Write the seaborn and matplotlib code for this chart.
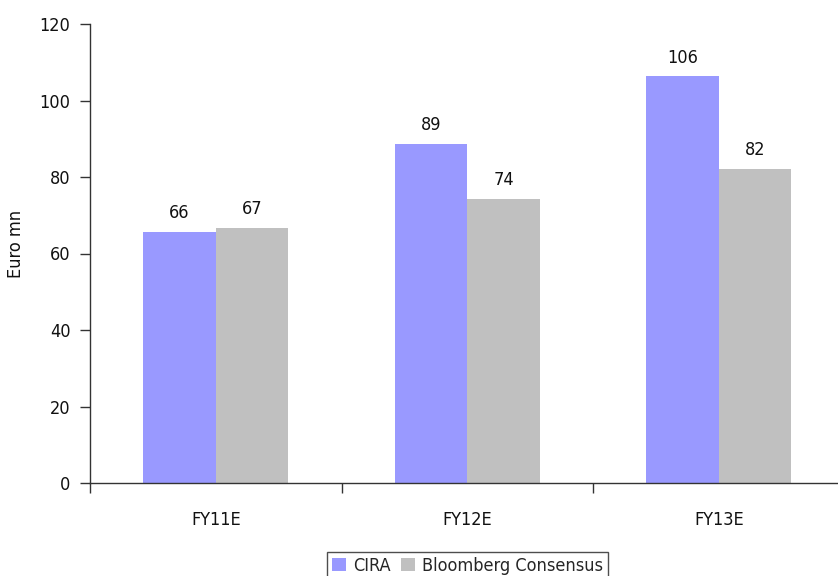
import matplotlib
matplotlib.use("Agg")
import matplotlib.pyplot as plt
import seaborn as sns
import pandas as pd
from matplotlib.ticker import FixedLocator

categories = ["FY11E", "FY12E", "FY13E"]
series_names = ["CIRA", "Bloomberg Consensus"]
cira_values = [65.6, 88.6, 106.3]
bloomberg_values = [66.7, 74.2, 82.1]
colors = ["#9999FF", "#C0C0C0"]
y_ticks = [0, 20, 40, 60, 80, 100, 120]

df = pd.DataFrame({
    "Year": categories * 2,
    "Series": [series_names[0]] * 3 + [series_names[1]] * 3,
    "Value": cira_values + bloomberg_values,
})

sns.set_theme(style="white")
plt.rcParams["font.family"] = ["DejaVu Sans"]
plt.rcParams["font.stretch"] = "condensed"
plt.rcParams["font.size"] = 13

fig = plt.figure(figsize=(8.38, 5.76), dpi=100)
ax = fig.add_axes([90 / 838, 93 / 576, 754.5 / 838, 459 / 576])

sns.barplot(data=df, x="Year", y="Value", hue="Series", palette=colors,
            width=0.577, gap=0, saturation=1, ax=ax, edgecolor="none",
            linewidth=0)

for cont in ax.containers:
    ax.bar_label(cont, labels=[f"{v.get_height():.0f}" for v in cont],
                 padding=7, fontsize=13, color="#111111")

ax.set_xlim(-0.5, 2.5)
ax.set_ylim(0, 120)
ax.set_yticks(y_ticks)
ax.set_yticklabels([str(t) for t in y_ticks], fontsize=13)
ax.xaxis.set_minor_locator(FixedLocator([-0.5, 0.5, 1.5, 2.5]))
ax.tick_params(axis="x", which="major", length=0, pad=20, labelsize=13, colors="#111111")
ax.tick_params(axis="x", which="minor", length=7, width=1, direction="out",
               bottom=True, color="#333333")
ax.tick_params(axis="y", which="major", length=7, width=1, direction="out",
               left=True, pad=7, labelsize=13, colors="#111111")
ax.tick_params(axis="y", colors="#333333", labelcolor="#111111")
for s in ["top", "right"]:
    ax.spines[s].set_visible(False)
for s in ["left", "bottom"]:
    ax.spines[s].set_color("#333333")
    ax.spines[s].set_linewidth(1)

ax.set_xlabel("")
ax.set_ylabel("Euro mn", fontsize=13, color="#111111")
ax.yaxis.set_label_coords((25 - 90) / 754.5, (483 - 244) / 459)

leg = ax.legend(loc="upper center", bbox_to_anchor=(467.5 / 838, 24 / 576),
                bbox_transform=fig.transFigure, ncol=2, frameon=True,
                fancybox=False, edgecolor="#222222", fontsize=13,
                handlelength=0.75, handleheight=0.75, handletextpad=0.4,
                columnspacing=0.6, borderpad=0.25, borderaxespad=0)
leg.get_frame().set_linewidth(1)

fig.savefig("out.png", dpi=100)
